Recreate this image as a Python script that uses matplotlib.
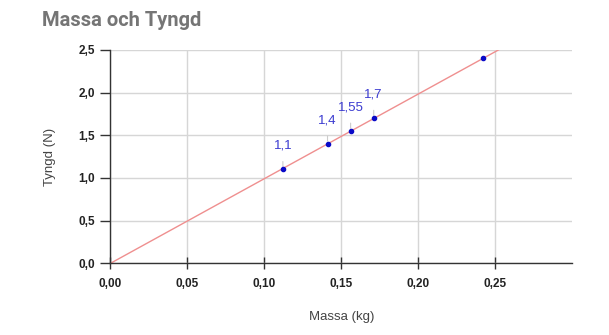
import numpy as np
import matplotlib
matplotlib.use('Agg')
import matplotlib.pyplot as plt
from matplotlib.ticker import FuncFormatter

# Data
massa = [0.112, 0.141, 0.156, 0.171, 0.242]
tyngd = [1.1, 1.4, 1.55, 1.7, 2.4]
etiketter = ['1,1', '1,4', '1,55', '1,7', None]

x_ticks = [0.00, 0.05, 0.10, 0.15, 0.20, 0.25]
y_ticks = [0.0, 0.5, 1.0, 1.5, 2.0, 2.5]

plt.rcParams['font.family'] = ['Liberation Sans', 'DejaVu Sans']

fig = plt.figure(figsize=(6.09, 3.35), dpi=100)
ax = fig.add_axes([0.1814, 0.214, 0.7583, 0.637])

# Linear trendline through origin (least squares)
x = np.array(massa)
y = np.array(tyngd)
k = (x * y).sum() / (x * x).sum()
xs = np.array([0.0, 0.30])
ax.plot(xs, k * xs, color='#ef8f8f', lw=1.0, zorder=2)

ax.scatter(massa, tyngd, s=9, color='#0a0ac8', zorder=4)

for xi, yi, lab in zip(massa, tyngd, etiketter):
    if lab is None:
        continue
    ax.annotate(lab, xy=(xi, yi), xytext=(0, 17), textcoords='offset points',
                ha='center', va='center', fontsize=9.5, color='#3a3ad0',
                arrowprops=dict(arrowstyle='-', color='#cccccc', lw=0.8,
                                shrinkA=5, shrinkB=2))

ax.set_xlim(0, 0.30)
ax.set_ylim(0, 2.5)
ax.set_xticks(x_ticks)
ax.set_yticks(y_ticks)
ax.xaxis.set_major_formatter(FuncFormatter(lambda v, p: f'{v:.2f}'.replace('.', ',')))
ax.yaxis.set_major_formatter(FuncFormatter(lambda v, p: f'{v:.1f}'.replace('.', ',')))

ax.grid(True, color='#d6d6d6', lw=1.0, zorder=0)
ax.set_axisbelow(True)
for s in ['top', 'right']:
    ax.spines[s].set_visible(False)
for s in ['left', 'bottom']:
    ax.spines[s].set_color('#333333')
    ax.spines[s].set_linewidth(1.0)

ax.tick_params(axis='x', direction='inout', length=9, width=1, color='#333333',
               pad=6, labelsize=8.5, labelcolor='#222222')
ax.tick_params(axis='y', direction='out', length=7.5, width=1, color='#333333',
               pad=3.5, labelsize=8.5, labelcolor='#222222')
for lab in ax.get_xticklabels() + ax.get_yticklabels():
    lab.set_fontweight('bold')

ax.set_xlabel('Massa (kg)', fontsize=9.5, color='#444444', labelpad=15)
ax.set_ylabel('Tyngd (N)', fontsize=9.5, color='#444444', labelpad=16)

fig.text(0.069, 0.94, 'Massa och Tyngd', fontsize=14.5, fontweight='bold',
         color='#757575', va='center', ha='left', family=['Roboto', 'DejaVu Sans'])

plt.savefig('out.png', dpi=100)
